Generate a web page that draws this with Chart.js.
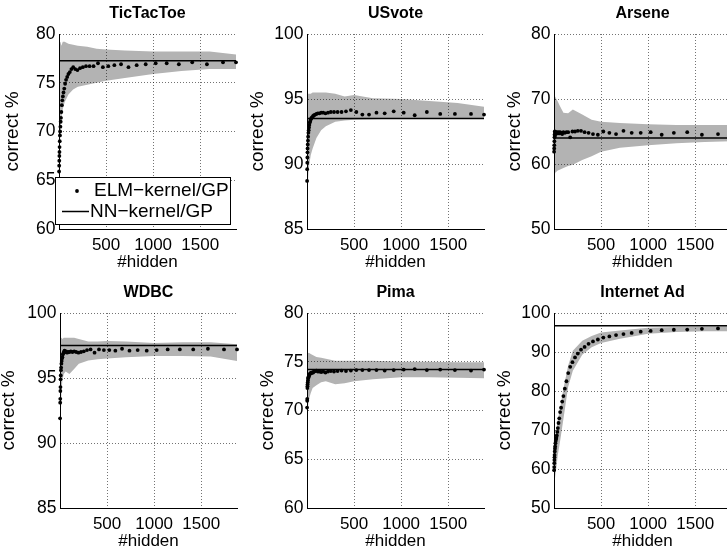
<!DOCTYPE html>
<html lang="en">
<head>
<meta charset="UTF-8">
<title>ELM-kernel vs NN-kernel</title>
<script src="https://cdn.jsdelivr.net/npm/chart.js@4/dist/chart.umd.min.js"></script>
<style>
  html, body { margin: 0; padding: 0; background: #fff; overflow: hidden; }
  #figure { position: relative; width: 727px; height: 550px; overflow: hidden; }
  #figure canvas { position: absolute; }
</style>
</head>
<body>
<div id="figure"></div>
<script>
// number of hidden units where the ELM kernel was evaluated (dots)
const hidden = [1, 2, 3, 4, 5, 6, 8, 10, 12, 15, 18, 21, 25, 30, 35, 41, 48, 56, 65, 75, 87, 100,
  115, 132, 151, 172, 196, 223, 253, 287, 325, 367, 414, 466, 524, 588, 659, 738, 825, 921,
  1027, 1144, 1273, 1415, 1571, 1742, 1880];
// coarser grid for the grey spread
const bandHidden = [1, 3, 6, 10, 15, 25, 40, 60, 100, 150, 200, 300, 400, 500, 700, 1000, 1300, 1600, 1880];
const xTicks = [500, 1000, 1500];
const xMin = 0, xMax = 1880;

// TicTacToe
const ticTacToeElm = [65.9, 66.5, 67.0, 67.5, 67.9, 68.4, 69.0, 69.6, 70.0, 70.5, 71.0, 71.4, 72.0, 72.7,
  73.2, 73.6, 74.0, 74.4, 74.9, 75.3, 75.6, 75.9, 76.1, 76.4, 76.6, 76.4, 76.3, 76.5, 76.6, 76.7,
  76.7, 76.7, 77.0, 76.6, 76.7, 76.8, 76.9, 76.6, 76.8, 76.9, 77.0, 77.0, 76.9, 77.1, 76.9, 77.1, 77.1];
const ticTacToeLow = [60, 63, 66, 68.5, 70, 71.2, 72.3, 73.0, 73.8, 74.3, 74.6, 74.8, 75.0, 75.2, 75.5, 75.9, 76.2, 76.4, 76.4];
const ticTacToeHigh = [78.0, 78.6, 78.9, 79.1, 79.2, 78.8, 79.2, 79.2, 79.0, 78.9, 78.8, 78.7, 78.5, 78.4, 78.3, 78.2, 78.2, 78.2, 77.9];
const ticTacToeNN = 77.25;
const ticTacToeTicks = [60, 65, 70, 75, 80];

// USvote
const usVoteElm = [88.7, 89.6, 90.1, 90.5, 90.9, 91.2, 91.5, 91.8, 92.1, 92.4, 92.6, 92.8, 93.0, 93.2,
  93.3, 93.45, 93.55, 93.6, 93.7, 93.75, 93.8, 93.85, 93.9, 93.9, 93.95, 93.95, 93.9, 93.95, 94.0, 94.0,
  94.0, 94.0, 94.05, 94.15, 94.0, 93.8, 93.8, 93.95, 93.9, 94.05, 93.95, 93.75, 94.0, 93.85, 93.85, 93.85, 93.8];
const usVoteLow = [85, 86, 87.5, 88.5, 89.3, 90.0, 90.7, 91.2, 92.0, 92.6, 92.9, 93.25, 93.35, 93.4, 93.45, 93.5, 93.5, 93.5, 93.5];
const usVoteHigh = [95.3, 95.4, 95.4, 95.4, 95.4, 95.4, 95.4, 95.5, 95.5, 95.5, 95.5, 95.4, 95.2, 95.3, 95.05, 95.0, 94.85, 94.7, 94.4];
const usVoteNN = 93.5;
const usVoteTicks = [85, 90, 95, 100];

// Arsene
const arseneElm = [61.9, 62.4, 62.9, 63.5, 64.1, 64.5, 65.0, 64.3, 64.8, 64.6, 64.9, 64.7, 64.8, 64.9,
  64.7, 64.8, 64.9, 64.7, 64.9, 64.8, 64.6, 64.9, 64.8, 64.9, 64.9, 64.1, 65.0, 65.0, 65.1, 65.1,
  64.9, 64.8, 64.6, 64.5, 65.0, 64.8, 64.6, 65.1, 64.8, 64.8, 64.9, 64.5, 64.8, 64.9, 64.5, 64.6, 64.4];
const arseneLow = [55.5, 57.0, 58.0, 58.5, 58.7, 58.8, 59.0, 59.1, 59.4, 59.7, 59.9, 60.6, 61.2, 61.9, 62.5, 62.9, 63.2, 63.4, 63.5];
const arseneHigh = [72.2, 71.5, 71.0, 70.5, 70.3, 70.0, 69.6, 69.0, 67.9, 67.8, 68.4, 67.6, 66.8, 66.5, 66.3, 66.1, 66.0, 66.0, 66.0];
const arseneNN = 64.0;
const arseneTicks = [50, 60, 70, 80];

// WDBC
const wdbcElm = [91.9, 93.1, 93.4, 94.0, 94.3, 94.9, 95.2, 95.6, 95.8, 96.1, 96.3, 96.5, 96.6, 96.8,
  96.9, 97.0, 97.1, 97.0, 97.05, 96.95, 97.0, 97.0, 97.05, 97.0, 97.05, 97.0, 96.95, 97.0, 97.05, 97.15,
  97.2, 96.95, 97.2, 97.15, 97.15, 97.1, 97.25, 97.1, 97.15, 97.1, 97.15, 97.2, 97.2, 97.2, 97.25, 97.2, 97.2];
const wdbcLow = [85.5, 88.5, 91.0, 92.5, 93.8, 94.8, 95.3, 95.5, 95.3, 95.7, 96.1, 96.35, 96.45, 96.5, 96.6, 96.7, 96.7, 96.65, 96.3];
const wdbcHigh = [98.1, 98.3, 98.2, 98.1, 98.1, 98.0, 98.1, 98.1, 98.1, 98.1, 98.0, 97.8, 97.8, 97.85, 97.8, 97.7, 97.75, 97.75, 97.6];
const wdbcNN = 97.5;
const wdbcTicks = [85, 90, 95, 100];

// Pima
const pimaElm = [70.3, 71.0, 71.2, 72.3, 72.5, 72.7, 72.9, 73.1, 73.3, 73.4, 73.5, 73.6, 73.65, 73.75,
  73.8, 73.85, 73.85, 73.9, 73.9, 74.0, 74.05, 74.1, 74.0, 74.0, 73.95, 74.0, 73.9, 74.0, 74.05, 74.0,
  74.05, 74.1, 74.05, 74.1, 74.15, 74.15, 74.15, 74.15, 74.1, 74.15, 74.2, 74.25, 74.15, 74.2, 74.15, 74.1, 74.2];
const pimaLow = [62.5, 66.0, 68.5, 70.0, 70.8, 71.3, 71.8, 72.3, 72.6, 72.9, 73.0, 72.7, 72.8, 73.0, 73.2, 73.4, 73.4, 73.35, 73.3];
const pimaHigh = [75.8, 76.0, 76.0, 76.0, 75.9, 75.9, 75.8, 75.7, 75.5, 75.4, 75.3, 75.1, 75.1, 75.1, 75.1, 75.0, 75.0, 74.95, 74.95];
const pimaNN = 74.2;
const pimaTicks = [60, 65, 70, 75, 80];

// Internet Ad
const internetAdElm = [59.7, 60.5, 61.5, 62.3, 63.0, 63.6, 64.5, 65.2, 65.8, 66.6, 67.2, 67.6, 68.0, 68.6,
  69.5, 70.5, 71.8, 73.0, 74.6, 75.7, 77.3, 78.7, 80.6, 82.5, 84.6, 86.2, 87.4, 88.6, 89.6, 90.6,
  91.3, 92.1, 92.7, 93.2, 93.7, 94.0, 94.35, 94.6, 94.9, 95.2, 95.4, 95.6, 95.7, 95.75, 95.95, 96.05, 96.1];
const internetAdLow = [50, 54, 56, 57.5, 58.5, 60.4, 63.5, 66.4, 72.8, 81.0, 85.2, 89.3, 91.2, 92.3, 93.4, 94.7, 95.1, 95.3, 95.3];
const internetAdHigh = [62, 64, 65.5, 67, 68, 70, 72.5, 75, 80.6, 86.5, 90.3, 92.9, 94.1, 95.0, 95.5, 96.2, 96.4, 96.5, 96.6];
const internetAdNN = 96.7;
const internetAdTicks = [50, 60, 70, 80, 90, 100];

const FONT = '"Liberation Sans", Arial, Helvetica, sans-serif';
Chart.defaults.font.family = FONT;
Chart.defaults.color = '#000';

// sizes of the pieces around each plot area
const AXIS_W = 64, AXIS_H = 45, TITLE_H = 34, PLOT_W = 177, PLOT_H = 195, PAD_R = 10;

// left/top = top-left corner of the plot area on the page; yPad moves the "correct %" label
const panels = [
  { title: 'TicTacToe', elm: ticTacToeElm, low: ticTacToeLow, high: ticTacToeHigh, nn: ticTacToeNN, yTicks: ticTacToeTicks, left: 59, top: 34, yPad: 6.5, legend: true },
  { title: 'USvote', elm: usVoteElm, low: usVoteLow, high: usVoteHigh, nn: usVoteNN, yTicks: usVoteTicks, left: 307, top: 34, yPad: 3.5 },
  { title: 'Arsene', elm: arseneElm, low: arseneLow, high: arseneHigh, nn: arseneNN, yTicks: arseneTicks, left: 554, top: 34, yPad: 13 },
  { title: 'WDBC', elm: wdbcElm, low: wdbcLow, high: wdbcHigh, nn: wdbcNN, yTicks: wdbcTicks, left: 60, top: 313, yPad: 1.5 },
  { title: 'Pima', elm: pimaElm, low: pimaLow, high: pimaHigh, nn: pimaNN, yTicks: pimaTicks, left: 307, top: 313, yPad: 13 },
  { title: 'Internet Ad', elm: internetAdElm, low: internetAdLow, high: internetAdHigh, nn: internetAdNN, yTicks: internetAdTicks, left: 554, top: 313, yPad: 3.5 }
];

function points(xs, ys) {
  return xs.map((x, i) => ({ x: x, y: ys[i] }));
}

// legend box sitting inside the TicTacToe axes, like the MATLAB one
const legendBox = {
  id: 'legendBox',
  afterDraw(chart) {
    const ctx = chart.ctx, a = chart.chartArea;
    const ds = chart.data.datasets;
    const bx = a.left - 4, by = a.top + 143;
    ctx.save();
    ctx.fillStyle = '#fff';
    ctx.fillRect(bx, by, 175, 47);
    ctx.strokeStyle = '#000';
    ctx.lineWidth = 1;
    ctx.strokeRect(bx + 0.5, by + 0.5, 175, 47);
    // dot entry
    ctx.fillStyle = '#000';
    ctx.beginPath();
    ctx.arc(a.left + 18, a.top + 157, 1.9, 0, Math.PI * 2);
    ctx.fill();
    // line entry
    ctx.lineWidth = 1.5;
    ctx.beginPath();
    ctx.moveTo(a.left + 3, a.top + 177.5);
    ctx.lineTo(a.left + 30, a.top + 177.5);
    ctx.stroke();
    ctx.font = '19px ' + FONT;
    ctx.textBaseline = 'middle';
    ctx.fillText(ds[0].label, a.left + 35, a.top + 157);
    ctx.fillText(ds[1].label, a.left + 31, a.top + 177.5);
    ctx.restore();
  }
};

const fig = document.getElementById('figure');

panels.forEach(p => {
  const canvas = document.createElement('canvas');
  canvas.width = AXIS_W + PLOT_W + PAD_R;
  canvas.height = TITLE_H + PLOT_H + AXIS_H;
  canvas.style.left = (p.left - AXIS_W) + 'px';
  canvas.style.top = (p.top - TITLE_H) + 'px';
  fig.appendChild(canvas);

  const gridLines = { color: 'rgba(0,0,0,0.55)', lineWidth: 1, drawTicks: false, z: 1 };
  const border = { display: true, color: '#000', width: 1, dash: [1, 2], z: 1 };

  new Chart(canvas, {
    type: 'line',
    data: {
      datasets: [
        {
          label: 'ELM\u2212kernel/GP',
          data: points(hidden, p.elm),
          showLine: false,
          pointRadius: 1.9,
          pointBackgroundColor: '#000',
          pointBorderWidth: 0,
          clip: false
        },
        {
          label: 'NN\u2212kernel/GP',
          data: [{ x: xMin, y: p.nn }, { x: xMax, y: p.nn }],
          borderColor: '#000',
          borderWidth: 1.5,
          pointRadius: 0
        },
        {
          label: 'spread high',
          data: points(bandHidden, p.high),
          borderWidth: 0,
          borderColor: 'rgba(0,0,0,0)',
          pointRadius: 0,
          backgroundColor: '#b3b3b3',
          fill: '+1'
        },
        {
          label: 'spread low',
          data: points(bandHidden, p.low),
          borderWidth: 0,
          borderColor: 'rgba(0,0,0,0)',
          pointRadius: 0,
          fill: false
        }
      ]
    },
    options: {
      responsive: false,
      animation: false,
      devicePixelRatio: 1,
      events: [],
      layout: { padding: { left: 0, right: PAD_R, top: 0, bottom: 0 } },
      plugins: {
        legend: { display: false },
        tooltip: { enabled: false },
        title: {
          display: true,
          text: p.title,
          fullSize: false,
          color: '#000',
          font: { size: 16, weight: 'bold' },
          padding: { top: 4.4, bottom: 10.4 }
        }
      },
      scales: {
        x: {
          type: 'linear',
          min: xMin,
          max: xMax,
          afterBuildTicks: s => { s.ticks = xTicks.map(v => ({ value: v })); },
          afterFit: s => { s.height = AXIS_H; },
          ticks: { callback: v => String(v), font: { size: 17 }, color: '#000', padding: 6.3, maxRotation: 0, autoSkip: false },
          grid: gridLines,
          border: border,
          title: { display: true, text: '#hidden', color: '#000', font: { size: 17 }, padding: { top: 0, bottom: 1.8 } }
        },
        y: {
          type: 'linear',
          min: p.yTicks[0],
          max: p.yTicks[p.yTicks.length - 1],
          afterBuildTicks: s => { s.ticks = p.yTicks.map(v => ({ value: v })); },
          afterFit: s => { s.width = AXIS_W; },
          ticks: { font: { size: 17.5 }, color: '#000', padding: 3.5 },
          grid: gridLines,
          border: border,
          title: { display: true, text: 'correct %', color: '#000', font: { size: 19 }, padding: { top: p.yPad, bottom: 0 } }
        }
      }
    },
    plugins: p.legend ? [legendBox] : []
  });
});
</script>
</body>
</html>
